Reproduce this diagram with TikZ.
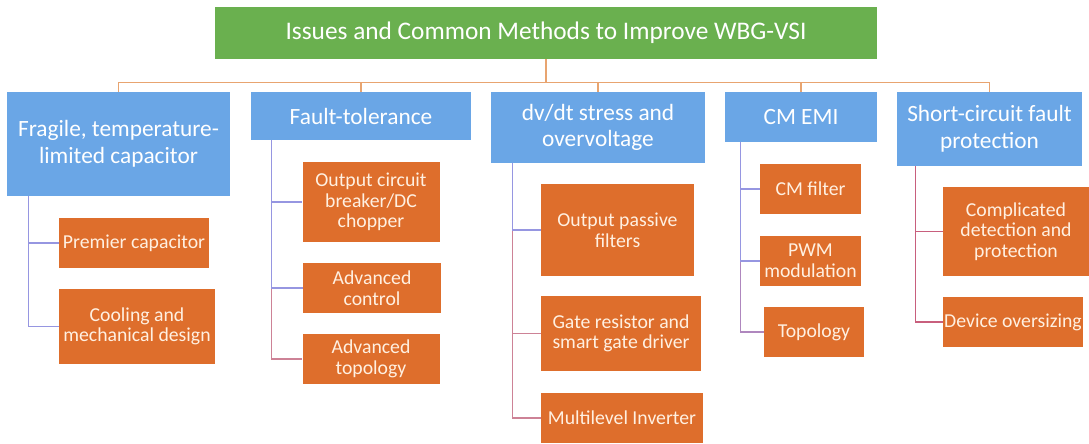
\documentclass[tikz,border=0pt]{standalone}
\usepackage{fontspec}
\setmainfont{Carlito}
\definecolor{headgreen}{RGB}{106,176,79}
\definecolor{issueblue}{RGB}{106,166,230}
\definecolor{methodorange}{RGB}{222,110,44}
\definecolor{methodtext}{RGB}{255,240,225}
\definecolor{trunktan}{RGB}{232,164,112}
\definecolor{linkblue}{RGB}{150,150,225}
\definecolor{linkred}{RGB}{205,130,150}
\definecolor{linkpurple}{RGB}{175,135,190}
\definecolor{linkrose}{RGB}{200,95,125}

\begin{document}
\begin{tikzpicture}[
  x=0.75pt, y=-0.75pt,
  sz/.style 2 args={minimum width=#1*0.75pt, minimum height=#2*0.75pt},
  head/.style={fill=headgreen, text=white, inner sep=0pt, font=\fontsize{19}{22}\selectfont},
  issue/.style={fill=issueblue, text=white, align=center, inner sep=0pt, font=\fontsize{17.5}{20}\selectfont},
  method/.style={fill=methodorange, text=methodtext, align=center, inner sep=0pt, font=\fontsize{14.8}{15.5}\selectfont},
  trunk/.style={draw=trunktan, line width=0.8pt},
  lnblue/.style={draw=linkblue, line width=0.8pt},
  lnred/.style={draw=linkred, line width=0.8pt},
  lnpurple/.style={draw=linkpurple, line width=0.8pt},
  lnrose/.style={draw=linkrose, line width=0.8pt}
]
\useasboundingbox (0,0) rectangle (1089,443);

% root
\node[head, sz={662}{52}] (root) at (546,33) {Issues and Common Methods to Improve WBG-VSI};

% issues
\node[issue, sz={223}{104}] (cap) at (118.5,144) {Fragile, temperature-\\limited capacitor};
\node[issue, sz={220}{48}] (flt) at (361,116) {Fault-tolerance};
\node[issue, sz={214}{71}] (dvdt) at (598,127.5) {dv/dt stress and\\overvoltage};
\node[issue, sz={152}{50}] (emi) at (801,117) {CM EMI};
\node[issue, sz={185}{74}] (scf) at (989.5,129) {Short-circuit fault\\protection};

\foreach \n in {cap,flt,dvdt,emi,scf}
  \draw[trunk] (root.south) -- ++(0,23) -| (\n.north);

% methods
\node[method, sz={150}{50}] (cap1) at (134,243) {Premier capacitor};
\node[method, sz={156}{75}] (cap2) at (137,326.5) {Cooling and\\mechanical design};

\node[method, sz={137}{80}] (flt1) at (371,202) {Output circuit\\breaker/DC\\chopper};
\node[method, sz={138}{50}] (flt2) at (372,288) {Advanced\\control};
\node[method, sz={137}{50}] (flt3) at (371,359) {Advanced\\topology};

\node[method, sz={153}{92}] (dvdt1) at (617.5,230) {Output passive\\filters};
\node[method, sz={160}{75}] (dvdt2) at (621,333.5) {Gate resistor and\\smart gate driver};
\node[method, sz={162}{50}] (dvdt3) at (622,418) {Multilevel Inverter};

\node[method, sz={101}{50}] (emi1) at (810.5,189) {CM filter};
\node[method, sz={101}{50}] (emi2) at (810.5,261) {PWM\\modulation};
\node[method, sz={100}{50}] (emi3) at (814,332) {Topology};

\node[method, sz={146}{89}] (scf1) at (1016,231.5) {Complicated\\detection and\\protection};
\node[method, sz={140}{50}] (scf2) at (1013,322) {Device oversizing};

% links, last child first
\draw[lnblue] (cap.south west) ++(22,0) |- (cap2.west);
\draw[lnblue] (cap.south west) ++(22,0) |- (cap1.west);

\draw[lnred] (flt.south west) ++(21,0) |- (flt3.west);
\draw[lnblue] (flt.south west) ++(21,0) |- (flt2.west);
\draw[lnblue] (flt.south west) ++(21,0) |- (flt1.west);

\draw[lnred] (dvdt.south west) ++(22,0) |- (dvdt3.west);
\draw[lnred] (dvdt.south west) ++(22,0) |- (dvdt2.west);
\draw[lnblue] (dvdt.south west) ++(22,0) |- (dvdt1.west);

\draw[lnpurple] (emi.south west) ++(16,0) |- (emi3.west);
\draw[lnblue] (emi.south west) ++(16,0) |- (emi2.west);
\draw[lnblue] (emi.south west) ++(16,0) |- (emi1.west);

\draw[lnrose] (scf.south west) ++(19,0) |- (scf2.west);
\draw[lnrose] (scf.south west) ++(19,0) |- (scf1.west);
\end{tikzpicture}
\end{document}
